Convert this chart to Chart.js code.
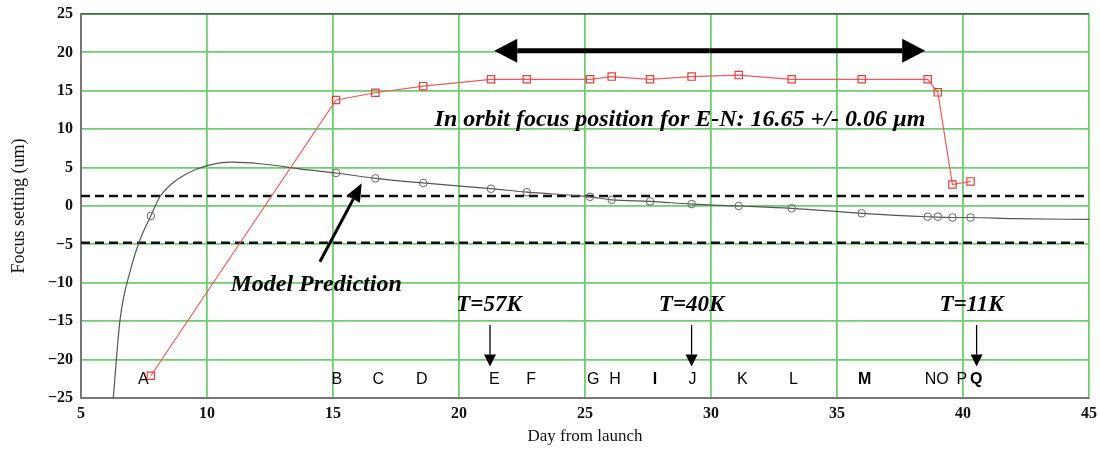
<!DOCTYPE html>
<html>
<head>
<meta charset="utf-8">
<script src="https://cdn.jsdelivr.net/npm/chart.js@4.4.1/dist/chart.umd.min.js"></script>
<style>
  html, body { margin: 0; padding: 0; background: #fff; }
  #wrap { width: 1100px; height: 449px; position: relative; }
</style>
</head>
<body>
<div id="wrap"><canvas id="focusChart"></canvas></div>
<script>
// Measured focus positions (red squares), day from launch
const measuredDays = [7.77, 15.12, 16.68, 18.58, 21.27, 22.69, 25.2, 26.06, 27.58, 29.23, 31.1, 33.2, 35.98, 38.6, 39.0, 39.58, 40.3];
const measuredFocus = [-22.1, 13.8, 14.75, 15.6, 16.5, 16.5, 16.5, 16.85, 16.5, 16.85, 17.05, 16.5, 16.5, 16.5, 14.8, 2.8, 3.2];

// Model prediction evaluated at the same days (open circles)
const modelFocus = [-1.3, 4.3, 3.6, 3.0, 2.25, 1.8, 1.2, 0.8, 0.6, 0.25, 0.0, -0.3, -0.95, -1.4, -1.4, -1.5, -1.5];

// Smooth model curve
const curveDays = [6.28, 6.55, 7.0, 7.34, 7.77, 8.13, 8.53, 9.19, 10.0, 11.0, 12.1, 14.0, 15.12, 16.68, 18.58, 21.27, 22.69, 25.2, 26.06, 27.58, 29.23, 31.1, 33.2, 35.98, 38.6, 39.58, 40.3, 42.0, 45.0];
const curveFocus = [-25, -14.8, -7.9, -4.4, -1.3, 1.2, 2.7, 4.2, 5.25, 5.7, 5.5, 4.7, 4.3, 3.6, 3.0, 2.25, 1.8, 1.2, 0.8, 0.6, 0.25, 0.0, -0.3, -0.95, -1.4, -1.5, -1.5, -1.65, -1.75];

// Tolerance band (dashed lines)
const toleranceLevels = [1.3, -4.8];

// Event letters along the bottom
const eventLetters = ['A', 'B', 'C', 'D', 'E', 'F', 'G', 'H', 'I', 'J', 'K', 'L', 'M', 'NO', 'P', 'Q'];
const eventDays = [7.47, 15.15, 16.8, 18.52, 21.4, 22.86, 25.33, 26.19, 27.78, 29.27, 31.24, 33.27, 36.1, 38.96, 39.95, 40.52];
const eventBold = [false, false, false, false, false, false, false, false, true, false, false, false, true, false, false, true];

// Temperature markers
const tempLabels = ['T=57K', 'T=40K', 'T=11K'];
const tempLabelDays = [21.19, 29.23, 40.34];
const tempArrowDays = [21.23, 29.23, 40.54];

const xTicks = [5, 10, 15, 20, 25, 30, 35, 40, 45];
const yTicks = [25, 20, 15, 10, 5, 0, -5, -10, -15, -20, -25];

const serif = '"Liberation Serif", "Times New Roman", serif';
const sans = '"Liberation Sans", Arial, sans-serif';

function pts(xs, ys) {
  return xs.map((x, i) => ({ x: x, y: ys[i] }));
}

function drawArrow(ctx, x1, y1, x2, y2, lw, headLen, headW) {
  const ang = Math.atan2(y2 - y1, x2 - x1);
  const bx = x2 - Math.cos(ang) * headLen;
  const by = y2 - Math.sin(ang) * headLen;
  ctx.lineWidth = lw;
  ctx.beginPath();
  ctx.moveTo(x1, y1);
  ctx.lineTo(bx, by);
  ctx.stroke();
  ctx.beginPath();
  ctx.moveTo(x2, y2);
  ctx.lineTo(bx + Math.sin(ang) * headW / 2, by - Math.cos(ang) * headW / 2);
  ctx.lineTo(bx - Math.sin(ang) * headW / 2, by + Math.cos(ang) * headW / 2);
  ctx.closePath();
  ctx.fill();
}

const annotations = {
  id: 'annotations',
  afterDatasetsDraw(chart) {
    const ctx = chart.ctx;
    const xs = chart.scales.x, ys = chart.scales.y;
    const px = v => xs.getPixelForValue(v);
    const py = v => ys.getPixelForValue(v);
    ctx.save();
    ctx.fillStyle = '#000';
    ctx.strokeStyle = '#000';

    // double headed arrow over the in-orbit period
    const ax1 = px(21.4), ax2 = px(38.5), ay = py(20.2);
    const mid = (ax1 + ax2) / 2;
    drawArrow(ctx, mid, ay, ax1, ay, 5, 23, 24);
    drawArrow(ctx, mid, ay, ax2, ay, 5, 23, 24);

    // model prediction arrow
    drawArrow(ctx, px(14.48), py(-7.25), px(16.14), py(2.96), 3, 18, 15);

    // temperature arrows
    tempArrowDays.forEach(d => {
      drawArrow(ctx, px(d), py(-15.5), px(d), py(-20.9), 1.3, 12, 12);
    });

    ctx.textAlign = 'center';
    ctx.textBaseline = 'middle';
    ctx.font = 'italic bold 24px ' + serif;
    ctx.fillText('In orbit focus position for E-N: 16.65 +/- 0.06 \u00b5m', px(28.77), py(11.2));
    ctx.fillText('Model Prediction', px(14.33), py(-10.3));
    ctx.font = 'italic bold 23px ' + serif;
    tempLabels.forEach((t, i) => {
      ctx.fillText(t, px(tempLabelDays[i]), py(-12.9));
    });

    eventLetters.forEach((l, i) => {
      ctx.font = (eventBold[i] ? 'bold ' : '') + '16px ' + sans;
      ctx.fillText(l, px(eventDays[i]), py(-22.66));
    });
    ctx.restore();
  }
};

const datasets = [
  {
    label: 'Model',
    data: pts(curveDays, curveFocus),
    showLine: true,
    borderColor: '#555',
    borderWidth: 1.2,
    pointRadius: 0,
    cubicInterpolationMode: 'monotone',
    order: 3
  },
  {
    label: 'Model at days',
    data: pts(measuredDays, modelFocus),
    showLine: false,
    pointRadius: 3.8,
    pointStyle: 'circle',
    borderColor: '#666',
    backgroundColor: 'rgba(255,255,255,0)',
    borderWidth: 1,
    order: 2
  },
  {
    label: 'Measured',
    data: pts(measuredDays, measuredFocus),
    showLine: true,
    borderColor: 'rgb(240,90,90)',
    borderWidth: 1.2,
    pointStyle: 'rect',
    pointRadius: 5.2,
    pointBorderColor: 'rgb(235,60,60)',
    pointBackgroundColor: 'rgba(255,255,255,0)',
    pointBorderWidth: 1.2,
    order: 1
  }
];

toleranceLevels.forEach(lv => {
  datasets.push({
    label: 'tol ' + lv,
    data: [{ x: 5, y: lv }, { x: 45, y: lv }],
    showLine: true,
    borderColor: '#111',
    borderWidth: 2.5,
    borderDash: [9, 5],
    pointRadius: 0,
    order: 4
  });
});

new Chart(document.getElementById('focusChart'), {
  type: 'scatter',
  data: { datasets: datasets },
  options: {
    responsive: true,
    maintainAspectRatio: false,
    animation: false,
    layout: { padding: { top: 14, right: 11, left: 0, bottom: 0 } },
    plugins: {
      legend: { display: false },
      tooltip: { enabled: false }
    },
    scales: {
      x: {
        type: 'linear',
        min: 5,
        max: 45,
        afterBuildTicks: s => { s.ticks = xTicks.map(v => ({ value: v })); },
        afterFit: s => { s.height = 51; s.paddingLeft = 0; s.paddingRight = 0; },
        grid: {
          color: 'rgb(110,205,110)',
          lineWidth: 1.8,
          drawTicks: false
        },
        border: { display: true, color: '#777', width: 2 },
        ticks: {
          padding: 6,
          color: '#111',
          font: { family: serif, size: 16, weight: 'bold' }
        },
        title: {
          display: true,
          text: 'Day from launch',
          color: '#111',
          font: { family: serif, size: 17 },
          padding: { top: 0, bottom: 2 }
        }
      },
      y: {
        type: 'linear',
        min: -25,
        max: 25,
        afterBuildTicks: s => { s.ticks = yTicks.map(v => ({ value: v })); },
        afterFit: s => { s.width = 81; s.paddingTop = 0; s.paddingBottom = 0; },
        grid: {
          color: ctx => ctx.tick && ctx.tick.value === 25 ? 'rgb(50,110,60)' : 'rgb(110,205,110)',
          lineWidth: 1.8,
          drawTicks: false
        },
        border: { display: true, color: '#777', width: 2 },
        ticks: {
          padding: 8,
          color: '#111',
          font: { family: serif, size: 16, weight: 'bold' },
          callback: v => String(v).replace('-', '\u2212')
        },
        title: {
          display: true,
          text: 'Focus setting (um)',
          color: '#111',
          font: { family: serif, size: 18 },
          padding: { top: 8, bottom: 0 }
        }
      }
    }
  },
  plugins: [annotations]
});
</script>
</body>
</html>
